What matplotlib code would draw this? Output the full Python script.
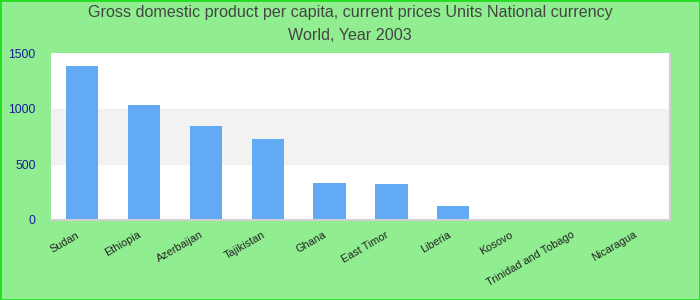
import matplotlib
matplotlib.use("Agg")
import matplotlib.pyplot as plt
from matplotlib.patches import Rectangle
from matplotlib.transforms import ScaledTranslation

plt.rcParams['font.family'] = ['Liberation Sans', 'DejaVu Sans']

countries = ['Sudan', 'Ethiopia', 'Azerbaijan', 'Tajikistan', 'Ghana',
             'East Timor', 'Liberia', 'Kosovo', 'Trinidad and Tobago', 'Nicaragua']
gdp = [1383, 1035, 845, 728, 332, 324, 126, 0, 0, 0]
yticks = [0, 500, 1000, 1500]

fig = plt.figure(figsize=(7, 3), dpi=100, facecolor='#90ee90')
ax = fig.add_axes([51 / 700, 80 / 300, 619 / 700, 167 / 300])
ax.set_facecolor('white')

# alternating band between 500 and 1000
ax.axhspan(500, 1000, color='#f2f2f2', zorder=0)

x = range(len(countries))
ax.bar(x, gdp, width=0.52, color='#63aaf5', zorder=2)

ax.set_xlim(-0.5, len(countries) - 0.5)
ax.set_ylim(0, 1500)
ax.set_yticks(yticks)
ax.set_yticklabels([str(v) for v in yticks], color='#1a1a99', fontsize=8.7)
ax.set_xticks(list(x))
ax.set_xticklabels(countries, rotation=30, ha='right', rotation_mode='anchor',
                   fontsize=7.8, color='#222222')
ax.tick_params(axis='y', length=0, pad=11)
ax.tick_params(axis='x', length=0, pad=7)

# nudge x labels a little to the left
shift = ScaledTranslation(-6 / 100, 0, fig.dpi_scale_trans)
for lbl in ax.get_xticklabels():
    lbl.set_transform(lbl.get_transform() + shift)

for side in ['top', 'left']:
    ax.spines[side].set_visible(False)
for side in ['bottom', 'right']:
    ax.spines[side].set_color('#d0d0d0')
    ax.spines[side].set_linewidth(1.5)

fig.text(0.5, 0.96, 'Gross domestic product per capita, current prices Units National currency',
         ha='center', va='center', fontsize=11.6, color='#444444')
fig.text(0.5, 0.88, 'World, Year 2003', ha='center', va='center', fontsize=11.6, color='#444444')

fig.patches.append(Rectangle((0, 0), 1, 1, transform=fig.transFigure, fill=False,
                             edgecolor='#22dd22', linewidth=2))

fig.savefig('out.png', dpi=100, facecolor=fig.get_facecolor())
